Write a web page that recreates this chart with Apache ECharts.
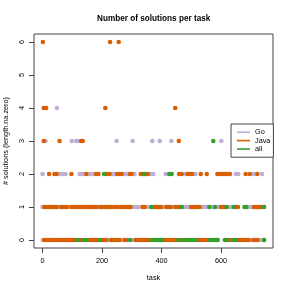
<!DOCTYPE html>
<html>
<head>
<meta charset="utf-8">
<script src="https://cdn.jsdelivr.net/npm/echarts@6/dist/echarts.min.js"></script>
<style>
html,body{margin:0;padding:0;background:#fff;}
#c{width:291px;height:291px;}
</style>
</head>
<body>
<div id="c"></div>
<script>
// task indices (x) at which each language has a given number of solutions (y)
const goAt0 = [1, 32, 223, 266, 303, 700, 735, 741];
const goAt1 = [0, 53, 91, 187, 308, 315, 322, 358, 406, 438, 475, 482, 489, 496, 536, 543, 550, 556, 568, 574, 586, 593, 628, 634, 690, 697, 704];
const goAt2 = [0, 55, 62, 70, 77, 125, 132, 139, 158, 165, 172, 236, 242, 277, 285, 309, 364, 372, 414, 475, 514, 650, 658, 710, 738];
const goAt3 = [10, 98, 113, 121, 249, 303, 369, 394, 433, 601];
const goAt4 = [48];

const javaAt0 = [6, 13, 20, 27, 38, 45, 52, 59, 66, 73, 80, 87, 94, 101, 108, 122, 130, 156, 163, 170, 177, 184, 200, 207, 214, 230, 237, 244, 251, 258, 276, 284, 313, 320, 327, 334, 341, 348, 356, 372, 405, 412, 419, 426, 433, 440, 447, 466, 520, 527, 534, 541, 548, 555, 625, 633, 658, 665, 672, 679, 686, 693, 709, 716, 723];
const javaAt1 = [6, 13, 20, 27, 34, 41, 47, 62, 69, 76, 83, 98, 105, 112, 119, 126, 133, 140, 147, 154, 161, 168, 175, 180, 194, 201, 208, 215, 222, 229, 240, 247, 254, 261, 268, 275, 282, 289, 296, 336, 344, 374, 377, 384, 391, 398, 416, 423, 430, 446, 453, 460, 500, 507, 514, 521, 528, 600, 607, 613, 650, 657, 711, 718, 725, 732, 739];
const javaAt2 = [22, 40, 47, 97, 147, 180, 188, 216, 225, 251, 258, 266, 294, 299, 330, 338, 346, 354, 459, 467, 487, 496, 503, 532, 552, 588, 596, 604, 612, 619, 630, 683, 697, 722];
const javaAt3 = [4, 57, 130, 135, 458];
const javaAt4 = [4, 12, 211, 446];
const javaAt6 = [1, 227, 256];

const allAt0 = [116, 139, 147, 190, 294, 364, 380, 387, 394, 400, 456, 474, 481, 488, 495, 502, 509, 514, 562, 569, 576, 583, 589, 613, 619, 642, 650, 745];
const allAt1 = [366, 468, 561, 580, 619, 643, 679, 685, 745];
const allAt2 = [207, 342, 426, 434];
const allAt3 = [574];

const xTicks = [0, 200, 400, 600];
const yTicks = [0, 1, 2, 3, 4, 5, 6];

const seriesNames = ['Go', 'Java', 'all'];
const seriesColors = ['#BEAED4', '#D95F02', '#33A02C'];

function pts(rows) {
  const out = [];
  rows.forEach(function (r) { r[1].forEach(function (x) { out.push([x, r[0]]); }); });
  return out;
}

const seriesData = [
  pts([[0, goAt0], [1, goAt1], [2, goAt2], [3, goAt3], [4, goAt4]]),
  pts([[0, javaAt0], [1, javaAt1], [2, javaAt2], [3, javaAt3], [4, javaAt4], [6, javaAt6]]),
  pts([[0, allAt0], [1, allAt1], [2, allAt2], [3, allAt3]])
];

const FONT = 'Liberation Sans, Arial, Helvetica, sans-serif';
const chart = echarts.init(document.getElementById('c'), null, {renderer: 'canvas'});
chart.setOption({
  animation: false,
  backgroundColor: '#fff',
  textStyle: {fontFamily: FONT},
  grid: {left: 34, top: 34, right: 18, bottom: 43, show: true, borderColor: '#444', borderWidth: 1, backgroundColor: 'transparent'},
  xAxis: {
    type: 'value', min: -28.8, max: 774.8,
    axisLine: {show: false, onZero: false},
    axisTick: {show: true, length: 5, inside: false, customValues: xTicks, lineStyle: {color: '#444', width: 1}},
    axisLabel: {show: true, customValues: xTicks, margin: 9, fontSize: 7.3, color: '#000', fontFamily: FONT},
    splitLine: {show: false}
  },
  yAxis: {
    type: 'value', min: -0.24, max: 6.24,
    axisLine: {show: false, onZero: false},
    axisTick: {show: true, length: 5, inside: false, customValues: yTicks, lineStyle: {color: '#444', width: 1}},
    axisLabel: {show: true, customValues: yTicks, rotate: 90, margin: 9, fontSize: 7.3, color: '#000', fontFamily: FONT},
    splitLine: {show: false}
  },
  legend: {
    orient: 'vertical', left: 231, top: 124,
    padding: [4, 3, 4, 6], itemGap: 0,
    itemWidth: 13, itemHeight: 1.6, icon: 'rect',
    borderColor: '#444', borderWidth: 1, backgroundColor: '#fff',
    textStyle: {fontSize: 7.3, color: '#000', lineHeight: 8.4, fontFamily: FONT},
    data: seriesNames
  },
  graphic: [
    {type: 'text', x: 153.7, y: 18.3, style: {text: 'Number of solutions per task', fontSize: 8.2, fontWeight: 'bold', fontFamily: FONT, fill: '#000', textAlign: 'center', textVerticalAlign: 'middle'}},
    {type: 'text', x: 153.5, y: 277.7, style: {text: 'task', fontSize: 7.3, fontFamily: FONT, fill: '#000', textAlign: 'center', textVerticalAlign: 'middle'}},
    {type: 'text', x: 5.5, y: 141, rotation: Math.PI / 2, style: {text: '# solutions (length.na.zero)', fontSize: 7.3, fontFamily: FONT, fill: '#000', textAlign: 'center', textVerticalAlign: 'middle'}}
  ],
  series: seriesNames.map(function (n, i) {
    return {name: n, type: 'scatter', data: seriesData[i], symbol: 'circle', symbolSize: 4.6, itemStyle: {color: seriesColors[i], opacity: 1}, silent: true, z: 2 + i};
  })
});
</script>
</body>
</html>
